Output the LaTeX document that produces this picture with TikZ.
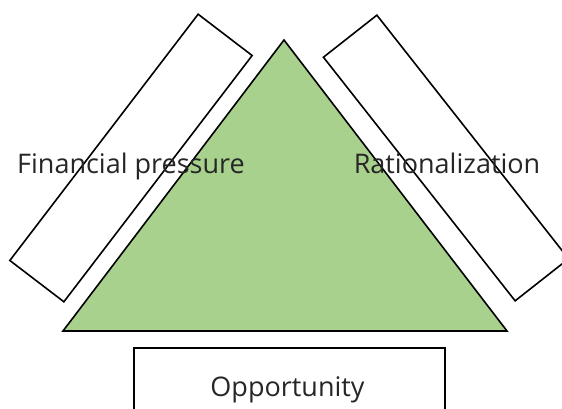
\documentclass[tikz,border=0pt]{standalone}
\usepackage{fontspec}
\setmainfont{Open Sans}
\definecolor{trigreen}{HTML}{A9D18E}
\tikzset{
  sidebox/.style={draw=black, line width=1.6pt, fill=white, minimum width=310pt, minimum height=68pt},
  label/.style={font=\fontsize{27}{31}\selectfont, text=black!85, inner sep=0pt, anchor=base}
}
\begin{document}
\begin{tikzpicture}[x=1pt, y=-1pt]
        \clip (0,0) rectangle (562,409);
        \useasboundingbox (0,0) rectangle (562,409);

        % the two side bars
        \node[sidebox, rotate=52.6] (pressurebox) at (131,158) {};
        \node[sidebox, rotate=-51.8] (rationbox) at (446,158) {};

        % triangle
        \coordinate (apex) at (284,40);
        \coordinate (leftcorner) at (63,331);
        \coordinate (rightcorner) at (507,331);
        \draw[black, line width=1.6pt, fill=trigreen] (apex) -- (leftcorner) -- (rightcorner) -- cycle;

        % bottom box
        \node[draw=black, line width=1.6pt, minimum width=311pt, minimum height=80pt] (oppbox) at (289.5,388) {};

        \node[label] (pressure) at (131,173) {Financial pressure};
        \node[label] (ration) at (447,173) {Rationalization};
        \node[label] (opp) at (287.5,396) {Opportunity};
    \end{tikzpicture}
\end{document}
